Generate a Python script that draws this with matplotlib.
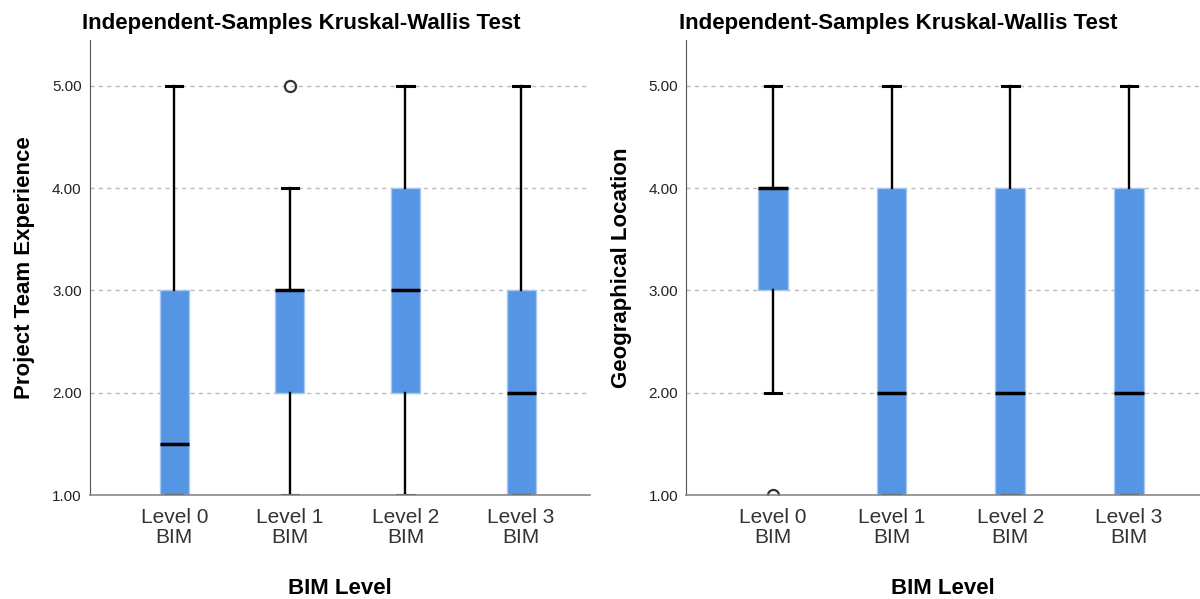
import matplotlib.pyplot as plt

plt.rcParams['font.family'] = ['Liberation Sans', 'DejaVu Sans']

# Kruskal-Wallis box plot summaries
levels = ['Level 0\nBIM', 'Level 1\nBIM', 'Level 2\nBIM', 'Level 3\nBIM']

exp_q1 = [1.0, 2.0, 2.0, 1.0]
exp_med = [1.5, 3.0, 3.0, 2.0]
exp_q3 = [3.0, 3.0, 4.0, 3.0]
exp_lo = [1.0, 1.0, 1.0, 1.0]
exp_hi = [5.0, 4.0, 5.0, 5.0]
exp_out = [[], [5.0], [], []]

geo_q1 = [3.0, 1.0, 1.0, 1.0]
geo_med = [4.0, 2.0, 2.0, 2.0]
geo_q3 = [4.0, 4.0, 4.0, 4.0]
geo_lo = [2.0, 1.0, 1.0, 1.0]
geo_hi = [5.0, 5.0, 5.0, 5.0]
geo_out = [[1.0], [], [], []]

yticks = [1, 2, 3, 4, 5]


def make_stats(q1, med, q3, lo, hi, out):
    stats = []
    for i in range(len(q1)):
        stats.append({'q1': q1[i], 'med': med[i], 'q3': q3[i],
                      'whislo': lo[i], 'whishi': hi[i], 'fliers': out[i]})
    return stats


def draw_panel(ax, stats, ylabel):
    ax.bxp(stats, positions=range(1, 5), widths=0.25, patch_artist=True,
           showfliers=True,
           boxprops=dict(facecolor='#5595e4', edgecolor='#a9c8f0', linewidth=1),
           medianprops=dict(color='black', linewidth=2.5),
           whiskerprops=dict(color='black', linewidth=1.7),
           capprops=dict(color='black', linewidth=2.2),
           capwidths=0.14,
           flierprops=dict(marker='o', markersize=8, markerfacecolor='none',
                           markeredgecolor='#333333', markeredgewidth=1.6))
    ax.set_xlim(0.27, 4.6)
    ax.set_ylim(1, 5.45)
    ax.set_yticks(yticks)
    ax.set_yticklabels(['%.2f' % v for v in yticks], fontsize=11, color='#222222')
    ax.set_xticks(range(1, 5))
    ax.set_xticklabels(levels, fontsize=15, color='#333333', linespacing=1.1)
    ax.tick_params(axis='both', length=0)
    ax.tick_params(axis='x', pad=9)
    ax.tick_params(axis='y', pad=6)
    for v in yticks[1:]:
        ax.axhline(v, color='#bbbbbb', linestyle=(0, (3, 3)), linewidth=1, zorder=0)
    ax.spines['top'].set_visible(False)
    ax.spines['right'].set_visible(False)
    ax.spines['left'].set_color('#555555')
    ax.spines['bottom'].set_color('#888888')
    ax.spines['bottom'].set_linewidth(1.2)
    ax.set_ylabel(ylabel, fontsize=16, fontweight='bold', labelpad=12)
    ax.set_xlabel('BIM Level', fontsize=16, fontweight='bold', labelpad=22)
    ax.set_title('Independent-Samples Kruskal-Wallis Test', fontsize=16,
                 fontweight='bold', loc='left', x=-0.015, pad=8)


fig = plt.figure(figsize=(12, 5.99), dpi=100)
ax1 = fig.add_axes([0.075, 0.1736, 0.417, 0.76])
ax2 = fig.add_axes([0.572, 0.1736, 0.428, 0.76])

draw_panel(ax1, make_stats(exp_q1, exp_med, exp_q3, exp_lo, exp_hi, exp_out),
           'Project Team Experience')
draw_panel(ax2, make_stats(geo_q1, geo_med, geo_q3, geo_lo, geo_hi, geo_out),
           'Geographical Location')

fig.savefig('out.png', dpi=100)
